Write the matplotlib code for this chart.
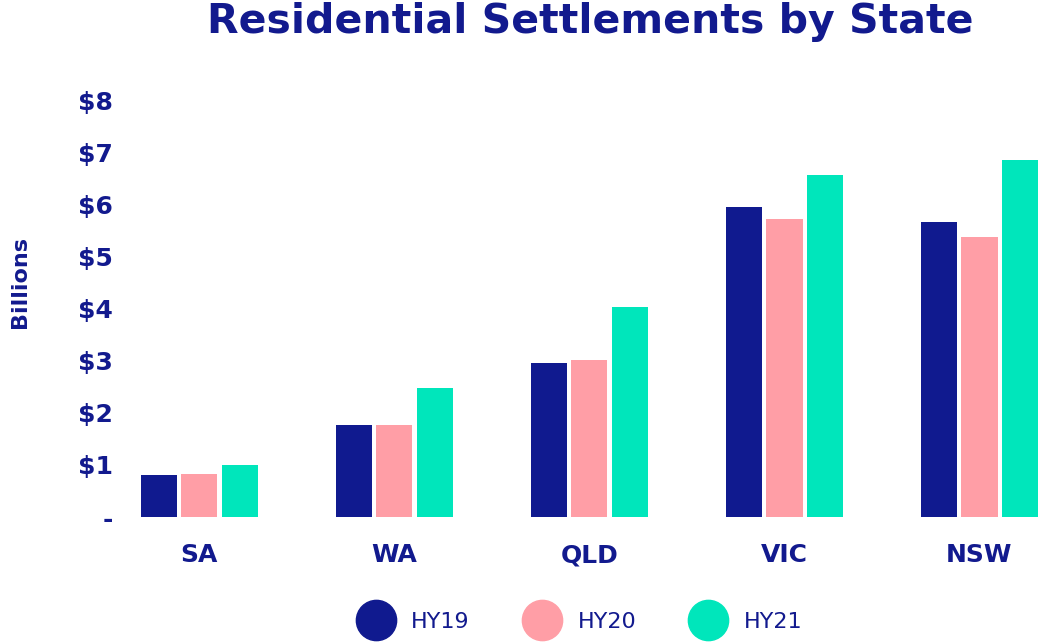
import numpy as np
import matplotlib
matplotlib.use('Agg')
import matplotlib.pyplot as plt
from matplotlib.lines import Line2D

plt.rcParams['font.family'] = ['DejaVu Sans']

# data
states = ['SA', 'WA', 'QLD', 'VIC', 'NSW']
series = ['HY19', 'HY20', 'HY21']
hy19 = [0.80, 1.77, 2.96, 5.96, 5.66]
hy20 = [0.83, 1.77, 3.02, 5.72, 5.38]
hy21 = [1.00, 2.48, 4.04, 6.56, 6.86]
y_ticks = [0, 1, 2, 3, 4, 5, 6, 7, 8]
y_labels = ['-', '$1', '$2', '$3', '$4', '$5', '$6', '$7', '$8']

navy = '#121a8e'
colors = ['#101a8f', '#ff9ea6', '#00e6bb']

fig = plt.figure(figsize=(10.38, 6.42), dpi=100)
ax = fig.add_axes([130 / 1038, 125 / 642, 908 / 1038, (517 - 90) / 642])

x = np.arange(len(states))
w = 0.185
step = 0.208
for i, (vals, c, name) in enumerate(zip([hy19, hy20, hy21], colors, series)):
    ax.bar(x + (i - 1) * step, vals, w, color=c, label=name)

ax.set_xlim(-0.356, 4.3)
ax.set_ylim(0, 8.2)
ax.set_xticks(x)
ax.set_xticklabels(states, fontsize=18, fontweight='bold', color=navy)
ax.set_yticks(y_ticks)
ax.set_yticklabels(y_labels, fontsize=18, fontweight='bold', color=navy)
ax.tick_params(axis='both', length=0)
ax.tick_params(axis='x', pad=19)
ax.tick_params(axis='y', pad=12)
for s in ax.spines.values():
    s.set_visible(False)

fig.text(20 / 1038, 1 - 282 / 642, 'Billions', rotation=90, fontsize=16,
         fontweight='bold', color=navy, ha='center', va='center')
fig.text(590 / 1038, 1 - 22 / 642, 'Residential Settlements by State', fontsize=29.5,
         fontweight='bold', color=navy, ha='center', va='center')

handles = [Line2D([0], [0], marker='o', linestyle='', markersize=29,
                  markerfacecolor=c, markeredgecolor=c) for c in colors]
fig.legend(handles, series, loc='center', bbox_to_anchor=(578 / 1038, 1 - 622 / 642),
           ncol=3, frameon=False, fontsize=16, labelcolor=navy,
           handletextpad=0.6, columnspacing=2.25)

fig.savefig('out.png', dpi=100)
